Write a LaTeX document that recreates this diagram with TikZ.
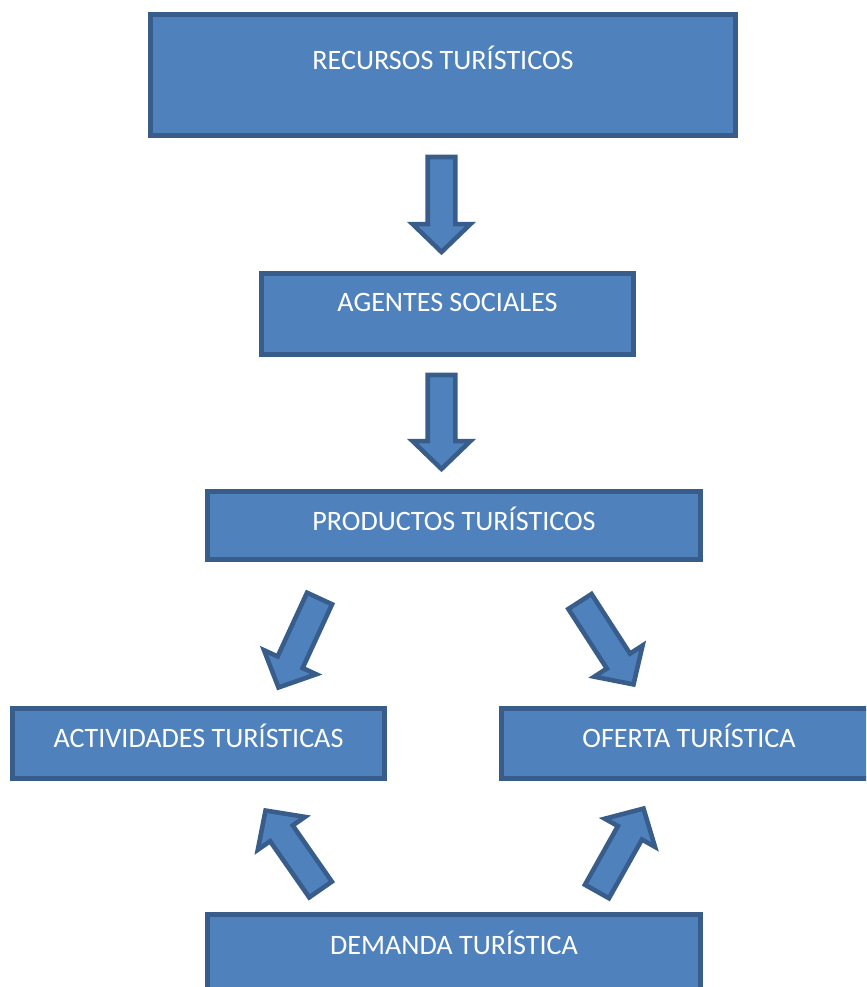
\documentclass[tikz,border=0pt]{standalone}
\usepackage{fontspec}
\setmainfont{Carlito}
\usepackage{tikz}
\usetikzlibrary{shapes,shapes.arrows,calc,positioning}
\definecolor{boxfill}{HTML}{4F81BD}
\definecolor{boxline}{HTML}{385D8A}
\tikzset{
    x=0.02cm,y=-0.02cm,
    box/.style ={rectangle, draw=boxline, fill=boxfill, line width=3pt, inner sep=0pt, outer sep=0pt,
                 anchor=north, text=white, font=\fontsize{16}{18}\selectfont},
    blockarrow/.style = {single arrow, draw=boxline, fill=boxfill, line width=2.6pt, inner xsep=0pt,
                 inner ysep=0.23cm, single arrow head extend=0.3cm, single arrow tip angle=92, outer sep=0pt}
}
% block arrow from one point to another
\newcommand{\barrow}[2]{%
    \coordinate (tl) at (#1); \coordinate (tp) at (#2);
    \path let \p1=($(tp)-(tl)$) in node[blockarrow, rotate={atan2(\y1,\x1)},
        minimum height={veclen(\x1,\y1)}, anchor=tail] at (tl) {};
}

\begin{document}
\begin{tikzpicture}
    \useasboundingbox (0,0) rectangle (866,987);
    \clip (0,0) rectangle (866,987);
    \node (1) [box, minimum width=11.7cm, text height=1.11cm, text depth=1.31cm] at (443,14.5) {RECURSOS TURÍSTICOS};
    \node (2) [box, minimum width=7.44cm, text height=0.77cm, text depth=0.85cm] at (447.5,273.5) {AGENTES SOCIALES};
    \node (3) [box, minimum width=9.86cm, text height=0.79cm, text depth=0.57cm] at (454,491.5) {PRODUCTOS TURÍSTICOS};
    \node (4) [box, minimum width=7.44cm, text height=0.77cm, text depth=0.63cm] at (198.5,708.5) {ACTIVIDADES TURÍSTICAS};
    \node (5) [box, minimum width=7.5cm, text height=0.77cm, text depth=0.63cm] at (689,708.5) {OFERTA TURÍSTICA};
    \node (6) [box, minimum width=9.86cm, text height=0.79cm, text depth=1.2cm] at (454,914.5) {DEMANDA TURÍSTICA};

    \barrow{$(1.south)+(-1.5,21.5)$}{$(2.north)+(-6,-21.5)$}
    \barrow{$(2.south)+(-6,20.5)$}{$(3.north)+(-12.5,-22.5)$}
    \barrow{$(3.south west)+(112,39)$}{$(4.north east)+(-106,-21)$}
    \barrow{$(3.south east)+(-120.5,42)$}{$(5.north west)+(132,-24)$}
    \barrow{$(6.north west)+(113,-25)$}{$(4.south)+(67,32)$}
    \barrow{$(6.north east)+(-103.5,-23)$}{$(5.south west)+(142,30)$}

\end{tikzpicture}
\end{document}
